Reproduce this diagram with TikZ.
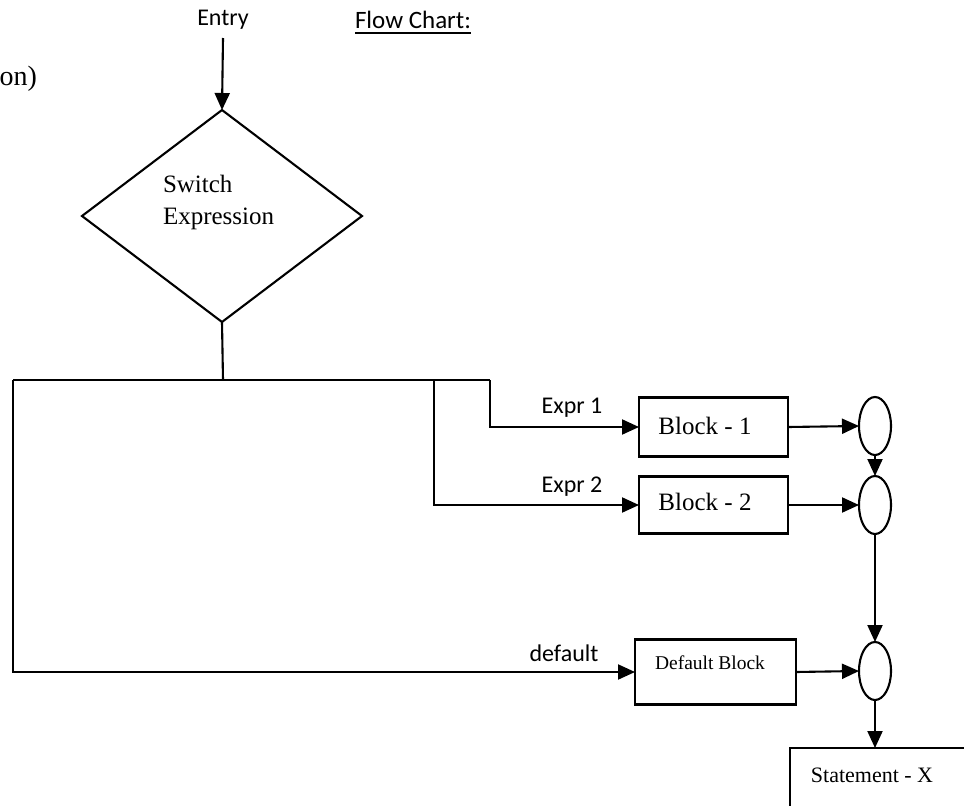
\documentclass[tikz,border=0pt]{standalone}
\usepackage{fontspec}
\setmainfont{Liberation Serif}
\newfontfamily\calib{Carlito}
\usetikzlibrary{shapes.geometric,arrows.meta}
\begin{document}
\begin{tikzpicture}[x=1pt,y=-1pt,
  every node/.style={inner sep=0pt, outer sep=0pt},
  ln/.style={line width=2.1pt},
  arr/.style={line width=2.1pt,-{Triangle[length=17pt,width=15pt]}},
  boxn/.style={draw, line width=2.1pt, rectangle, minimum width=149pt},
  ov/.style={draw, line width=2.1pt, ellipse, minimum width=32pt, minimum height=58pt},
  serif/.style={font=\fontsize{25}{28}\selectfont},
  sans/.style={font=\calib\fontsize{24}{28}\selectfont},
]
\useasboundingbox (0,0) rectangle (964,806);
\clip (0,0) rectangle (964,806);

% cut-off text at top left
\node[anchor=base east, font=\fontsize{28}{30}\selectfont] (on) at (37,85) {on)};

% titles
\node[sans, anchor=base] (entry) at (223,25) {Entry};
\node[anchor=base west, font=\calib\fontsize{25}{28}\selectfont] (fc) at (355,28) {Flow Chart:};
\draw[line width=1.6pt] ([yshift=-5pt]fc.base west) -- ([yshift=-5pt]fc.base east);

% diamond
\node[draw, diamond, line width=2.1pt, minimum width=280pt, minimum height=212pt] (sw) at (222,216) {};
\node[serif, anchor=base west] (swt1) at (163,192) {Switch};
\node[serif, anchor=base west] (swt2) at (163,224) {Expression};
\coordinate (entrytop) at (223,38);
\draw[arr] (entrytop) -- (sw.north);

% distribution lines
\coordinate (jn) at (223,380);
\coordinate (L) at (13,380);
\coordinate (M) at (434,380);
\coordinate (R) at (490,380);
\draw[ln] (sw.south) -- (jn);
\draw[ln] (L) -- (R);

% blocks
\node[boxn, minimum height=59pt] (b1) at (713.5,427) {};
\node[boxn, minimum height=57pt] (b2) at (713.5,505) {};
\node[boxn, minimum width=161pt, minimum height=65pt] (bd) at (715.5,672) {};
\node[serif, anchor=base] (b1t) at (705,434) {Block - 1};
\node[serif, anchor=base] (b2t) at (705,510) {Block - 2};
\node[anchor=base, font=\fontsize{19.5}{22}\selectfont] (bdt) at (710,669) {Default Block};

% branch arrows
\draw[arr] (R) |- (b1.west);
\draw[arr] (M) |- (b2.west);
\draw[arr] (L) |- (bd.west);
\node[sans, anchor=base] (ex1) at (572,413) {Expr 1};
\node[sans, anchor=base] (ex2) at (572,492) {Expr 2};
\node[sans, anchor=base] (dfl) at (564,661) {default};

% merge ovals
\node[ov] (e1) at (875,426) {};
\node[ov] (e2) at (875,505) {};
\node[ov] (e3) at (875,671) {};
\draw[arr] (b1.east) -- (e1.west);
\draw[arr] (b2.east) -- (e2.west);
\draw[arr] (bd.east) -- (e3.west);
\draw[arr] (e1.south) -- (e2.north);
\draw[arr] (e2.south) -- (e3.north);

% statement box
\node[draw, line width=2.1pt, rectangle, minimum width=190pt, minimum height=80pt, anchor=north west] (st) at (790,748) {};
\node[anchor=base, font=\fontsize{22}{26}\selectfont] (stt) at (872,782) {Statement - X};
\draw[arr] (e3.south) -- (st.north -| e3.south);
\end{tikzpicture}
\end{document}
